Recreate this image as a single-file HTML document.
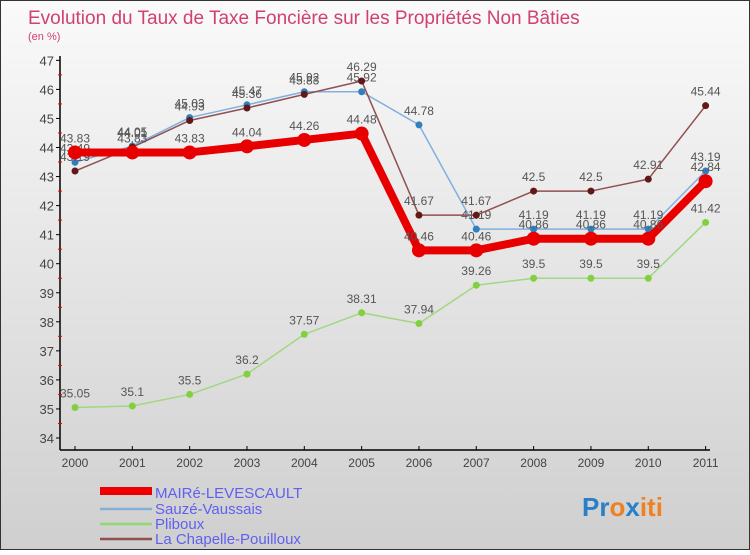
<!DOCTYPE html>
<html><head><meta charset="utf-8"><style>
body{margin:0}
svg text{font-family:"Liberation Sans",sans-serif}
</style></head><body>
<svg id="c" width="750" height="550" xmlns="http://www.w3.org/2000/svg">
<defs><linearGradient id="bg" x1="0" y1="0" x2="0" y2="1"><stop offset="0" stop-color="#fafafa"/><stop offset="1" stop-color="#cfcfcf"/></linearGradient></defs>
<rect x="0.5" y="0.5" width="749" height="549" fill="url(#bg)" stroke="#333"/>
<text x="28" y="24" font-size="19" fill="#d04070">Evolution du Taux de Taxe Foncière sur les Propriétés Non Bâties</text>
<text x="28" y="40" font-size="11" fill="#d04070">(en %)</text>
<g id="axes"></g><g id="series"></g>
<g>
<rect x="100" y="487" width="52" height="8" fill="#e00"/>
<line x1="100" y1="509" x2="152" y2="509" stroke="#80b0d8" stroke-width="2.5"/>
<line x1="100" y1="524" x2="152" y2="524" stroke="#90d870" stroke-width="2.5"/>
<line x1="100" y1="539" x2="152" y2="539" stroke="#905050" stroke-width="2.5"/>
<text x="155" y="498" font-size="15" fill="#6060f0">MAIRé-LEVESCAULT</text>
<text x="155" y="514" font-size="15" fill="#6060f0">Sauzé-Vaussais</text>
<text x="155" y="529" font-size="15" fill="#6060f0">Pliboux</text>
<text x="155" y="544" font-size="15" fill="#6060f0">La Chapelle-Pouilloux</text>
</g>
<text x="582" y="516" font-size="26" font-weight="bold"><tspan fill="#2a80c8">Pr</tspan><tspan fill="#f08020">o</tspan><tspan fill="#2a80c8">x</tspan><tspan fill="#f08020">iti</tspan></text>
</svg>
<script>
const years=["2000","2001","2002","2003","2004","2005","2006","2007","2008","2009","2010","2011"];
const yTicks=[34,35,36,37,38,39,40,41,42,43,44,45,46,47];
const maire=[43.83,43.83,43.83,44.04,44.26,44.48,40.46,40.46,40.86,40.86,40.86,42.84];
const sauze=[43.49,44.05,45.03,45.47,45.92,45.92,44.78,41.19,41.19,41.19,41.19,43.19];
const pliboux=[35.05,35.1,35.5,36.2,37.57,38.31,37.94,39.26,39.5,39.5,39.5,41.42];
const chapelle=[43.19,44.01,44.93,45.36,45.83,46.29,41.67,41.67,42.5,42.5,42.91,45.44];
const NS="http://www.w3.org/2000/svg";
const x=i=>75+i*(705.6-75)/(years.length-1);
const y=v=>438-(v-34)*29.05;
function mk(t,a,p){const e=document.createElementNS(NS,t);for(const k in a)e.setAttribute(k,a[k]);p.appendChild(e);return e;}
const ax=document.getElementById('axes');
const yl=mk('line',{x1:60,y1:56,x2:60,y2:450,stroke:'#000','stroke-width':1.5},ax);


const xl=mk('line',{x1:60,y1:450,x2:710,y2:450,stroke:'#000','stroke-width':1.5},ax);


yTicks.forEach(v=>{
 mk('line',{x1:56,y1:y(v),x2:60,y2:y(v),stroke:'#000'},ax);
 if(v<47)mk('line',{x1:58,y1:y(v+0.5),x2:62,y2:y(v+0.5),stroke:'#e00'},ax);
 const t=mk('text',{x:54,y:y(v)+5,'font-size':13,fill:'#444','text-anchor':'end'},ax);t.textContent=v;
 
 
});
years.forEach((yr,i)=>{
 mk('line',{x1:x(i),y1:446,x2:x(i),y2:450,stroke:'#000'},ax);
 const t=mk('text',{x:x(i),y:467,'font-size':12,fill:'#444','text-anchor':'middle'},ax);t.textContent=yr;
 
 
});
const sg=document.getElementById('series');
function draw(d,name,col,dot,w,r){
 const g=mk('g',{},sg);
 
 
 mk('polyline',{points:d.map((v,i)=>x(i)+','+y(v)).join(' '),fill:'none',stroke:col,'stroke-width':w,'stroke-linejoin':'round'},g);
 d.forEach((v,i)=>{
  const c=mk('circle',{cx:x(i),cy:y(v),r:r,fill:dot},g);
  
  
  const t=mk('text',{x:x(i),y:y(v)-10,'font-size':12,fill:'#555','text-anchor':'middle'},g);t.textContent=v;
  
  
 });
}
draw(pliboux,'pliboux','#a0d880','#80d040',1.5,3.5);
draw(sauze,'sauze','#80b0e0','#3080c0',1.5,3.5);
draw(chapelle,'chapelle','#905050','#601818',1.5,3.5);
draw(maire,'maire','#e80000','#e80000',8,7);
</script>
</body></html>
